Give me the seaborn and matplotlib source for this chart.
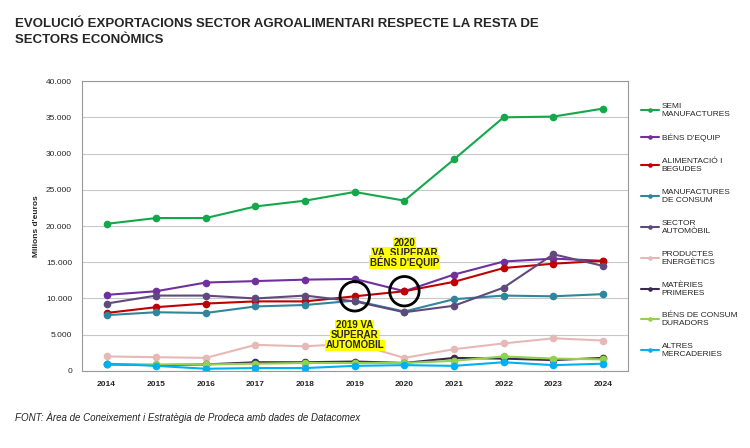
import matplotlib
matplotlib.use("Agg")
import matplotlib.pyplot as plt
import seaborn as sns
import pandas as pd

years = list(range(2014, 2025))
series_names = ["SEMI\nMANUFACTURES", "BÉNS D'EQUIP", "ALIMENTACIÓ I\nBEGUDES",
                "MANUFACTURES\nDE CONSUM", "SECTOR\nAUTOMÒBIL", "PRODUCTES\nENERGÈTICS",
                "MATÈRIES\nPRIMERES", "BÉNS DE CONSUM\nDURADORS", "ALTRES\nMERCADERIES"]
semi = [20300, 21100, 21100, 22700, 23500, 24700, 23500, 29200, 35000, 35100, 36200]
bens_equip = [10500, 11000, 12200, 12400, 12600, 12700, 11000, 13300, 15100, 15500, 15200]
alimentacio = [8000, 8800, 9300, 9600, 9600, 10300, 11000, 12300, 14200, 14800, 15200]
manuf_consum = [7700, 8100, 8000, 8900, 9100, 9700, 8200, 9900, 10400, 10300, 10600]
automobil = [9300, 10400, 10400, 10000, 10400, 9600, 8100, 9000, 11500, 16100, 14500]
energetics = [2000, 1900, 1800, 3600, 3400, 3800, 1800, 3000, 3800, 4500, 4200]
materies = [900, 800, 900, 1200, 1200, 1300, 1100, 1800, 1700, 1500, 1800]
bens_consum = [900, 900, 900, 1000, 1100, 1100, 1100, 1400, 2000, 1700, 1600]
altres = [1000, 700, 300, 400, 400, 700, 800, 700, 1200, 800, 1000]
colors = ["#13a84a", "#7030a0", "#c00000", "#31859c", "#604a7b",
          "#e6b9b8", "#3b2a4d", "#92d050", "#00b0f0"]

values = [semi, bens_equip, alimentacio, manuf_consum, automobil,
          energetics, materies, bens_consum, altres]
df = pd.DataFrame({"year": years * len(values),
                   "value": sum(values, []),
                   "serie": [n for n in series_names for _ in years]})

sns.set_style("white")
plt.rcParams["font.family"] = ["Liberation Sans", "DejaVu Sans"]
fig = plt.figure(figsize=(7.5, 4.48), dpi=100)
ax = fig.add_axes([0.109, 0.172, 0.728, 0.647])
sns.lineplot(data=df, x="year", y="value", hue="serie", hue_order=series_names,
             palette=colors, marker="o", markersize=5.5, markeredgewidth=0,
             linewidth=1.5, ax=ax)

ax.set_ylim(0, 40000)
ax.set_xlim(2013.5, 2024.5)
ax.set_yticks(range(0, 40001, 5000))
ax.set_yticklabels([f"{v:,}".replace(",", ".") for v in range(0, 40001, 5000)], fontsize=6)
ax.set_xticks(years)
ax.set_xticklabels(years, fontsize=6, fontweight="bold")
ax.grid(axis="y", color="#c8c8c8", linewidth=0.8)
for s in ax.spines.values():
    s.set_color("#999999")
ax.set_xlabel("")
ax.set_ylabel("Milions d'euros", fontsize=6, fontweight="bold")

# circles
ax.scatter([2019, 2020], [alimentacio[5], alimentacio[6]], s=450, facecolors="none",
           edgecolors="black", linewidths=2, zorder=5)
box = dict(facecolor="yellow", edgecolor="none", pad=0.5)
ax.text(2020, 17300, "2020", ha="center", fontsize=7, fontweight="bold", bbox=box)
ax.text(2020, 15900, "VA  SUPERAR", ha="center", fontsize=7, fontweight="bold", bbox=box)
ax.text(2020, 14500, "BÉNS D'EQUIP", ha="center", fontsize=7, fontweight="bold", bbox=box)
ax.text(2019, 5900, "2019 VA", ha="center", fontsize=7, fontweight="bold", bbox=box)
ax.text(2019, 4500, "SUPERAR", ha="center", fontsize=7, fontweight="bold", bbox=box)
ax.text(2019, 3100, "AUTOMÒBIL", ha="center", fontsize=7, fontweight="bold", bbox=box)

handles, labels = ax.get_legend_handles_labels()
ax.legend(handles, labels, loc="upper left", bbox_to_anchor=(1.01, 0.95), frameon=False,
          fontsize=6, labelspacing=1.9, handlelength=2.2, handletextpad=0.3,
          markerscale=0.6)

fig.text(0.02, 0.96, "EVOLUCIÓ EXPORTACIONS SECTOR AGROALIMENTARI RESPECTE LA RESTA DE\nSECTORS ECONÒMICS",
         fontsize=9.5, fontweight="bold", va="top", linespacing=1.5)
fig.text(0.02, 0.06, "FONT: Àrea de Coneixement i Estratègia de Prodeca amb dades de Datacomex",
         fontsize=7, style="italic")
fig.savefig("out.png", dpi=100)
